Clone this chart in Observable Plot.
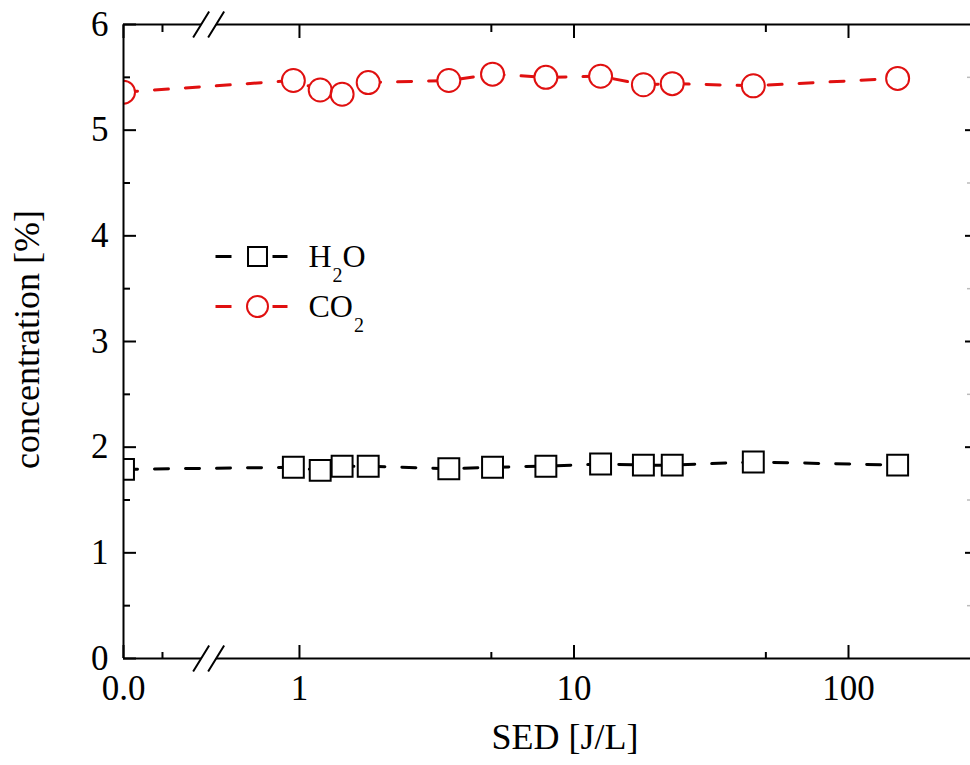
<!DOCTYPE html>
<html><head><meta charset="utf-8">
<script src="https://cdn.jsdelivr.net/npm/d3@7"></script>
<script src="https://cdn.jsdelivr.net/npm/@observablehq/plot@0.6"></script>
<style>
body{margin:0;background:#fff;}
#chart{position:relative;width:970px;height:765px;overflow:hidden;background:#fff}
</style></head><body><div id="chart"></div>
<script>
// ---- data ----
const sed = [0, 0.95, 1.19, 1.43, 1.78, 3.5, 5.05, 7.9, 12.5, 17.9, 22.8, 45, 151];
const h2o = [1.79, 1.81, 1.78, 1.82, 1.82, 1.795, 1.81, 1.82, 1.84, 1.83, 1.83, 1.86, 1.83];
const co2 = [5.36, 5.47, 5.38, 5.34, 5.45, 5.47, 5.53, 5.50, 5.51, 5.43, 5.44, 5.42, 5.49];
const seriesNames = ["H2O", "CO2"];
const xMajorTicks = [0, 1, 10, 100];
const xMajorLabels = ["0.0", "1", "10", "100"];
const xMinorTicks = [0.05, 5, 50];
const yMajorTicks = [0, 1, 2, 3, 4, 5, 6];
const yMinorTicks = [0.5, 1.5, 2.5, 3.5, 4.5, 5.5];
const xTitle = "SED [J/L]";
const yTitle = "concentration [%]";

// ---- broken x axis: linear segment [0, 0.1] then log10 segment ----
const linMax = 0.1, pZero = -0.641, pLinEnd = -0.357;
const pos = v => v <= linMax ? pZero + (v / linMax) * (pLinEnd - pZero) : Math.log10(v);
const pBreak = (pLinEnd + Math.log10(0.5)) / 2;
const labelOf = new Map(xMajorTicks.map((t, i) => [pos(t), xMajorLabels[i]]));

const rows = sed.map((s, i) => ({sed: s, h2o: h2o[i], co2: co2[i]}));
const RED = "#e01010";
const FONT = "'Liberation Serif', 'Times New Roman', serif";

const symLegendLine = {draw(ctx) { ctx.moveTo(-42, 0); ctx.lineTo(-26, 0); ctx.moveTo(15, 0); ctx.lineTo(30, 0); }};
const symBreakSlashes = {draw(ctx) { ctx.moveTo(-16, 13); ctx.lineTo(0, -13); ctx.moveTo(-1, 13); ctx.lineTo(15, -13); }};
const symBreakGap = {draw(ctx) { ctx.moveTo(-10, 4); ctx.lineTo(-5, -4); ctx.lineTo(9, -4); ctx.lineTo(4, 4); ctx.closePath(); }};

const X = d => pos(d.sed);
const lineOpts = {strokeWidth: 3, strokeDasharray: "14,17", strokeLinecap: "round", clip: true};
const legendTextOpts = {frameAnchor: "top-left", dx: 185, text: d => d, textAnchor: "start", lineAnchor: "middle", fontSize: 32};

const plot = Plot.plot({
  width: 970, height: 765,
  marginLeft: 123, marginRight: 0, marginTop: 24, marginBottom: 107,
  style: {fontFamily: FONT, background: "white", color: "black", overflow: "visible"},
  x: {type: "linear", domain: [pZero, 2.4517], range: [123, 972]},
  y: {domain: [0, 6]},
  axis: null,
  marks: [
    // series lines
    Plot.line(rows, {x: X, y: "h2o", stroke: "black", ...lineOpts}),
    Plot.line(rows, {x: X, y: "co2", stroke: RED, ...lineOpts}),
    // masks so the lines stop at the markers
    Plot.dot(rows, {x: X, y: "h2o", symbol: "square", r: 11.5, fill: "white", clip: true}),
    Plot.dot(rows, {x: X, y: "co2", symbol: "circle", r: 11.5, fill: "white", clip: true}),
    // markers
    Plot.dot(rows, {x: X, y: "h2o", symbol: "square", r: 11.8, fill: "none", stroke: "black", strokeWidth: 2, clip: true}),
    Plot.dot(rows, {x: X, y: "co2", symbol: "circle", r: 11.5, fill: "none", stroke: RED, strokeWidth: 2, clip: true}),
    // frame
    Plot.ruleY([0, 6], {stroke: "black", strokeWidth: 2}),
    Plot.ruleX([pZero], {stroke: "black", strokeWidth: 2}),
    // y axis ticks (inward), left & right
    Plot.axisY(yMajorTicks, {anchor: "left", tickSize: 13, dx: 13, fill: "none", strokeWidth: 2, label: null}),
    Plot.axisY(yMinorTicks, {anchor: "left", tickSize: 7, dx: 7, fill: "none", strokeWidth: 2, label: null}),
    Plot.axisY(yMajorTicks.slice(1, -1), {anchor: "right", tickSize: 6, dx: -6, fill: "none", strokeWidth: 2, label: null}),
    Plot.axisY(yMinorTicks, {anchor: "right", tickSize: 4, dx: -4, fill: "none", stroke: "#bbb", strokeWidth: 1.5, label: null}),
    Plot.axisY(yMajorTicks, {anchor: "left", tickSize: 0, tickPadding: 15, stroke: "none", fontSize: 35, label: null,
      tickFormat: d => String(d)}),
    // x axis ticks (inward), bottom & top
    Plot.axisX(xMajorTicks.map(pos), {anchor: "bottom", tickSize: 13, dy: -13, fill: "none", strokeWidth: 2, label: null}),
    Plot.axisX(xMinorTicks.map(pos), {anchor: "bottom", tickSize: 6, dy: -6, fill: "none", strokeWidth: 2, label: null}),
    Plot.axisX(xMajorTicks.map(pos), {anchor: "top", tickSize: 13, dy: 13, fill: "none", strokeWidth: 2, label: null}),
    Plot.axisX(xMinorTicks.map(pos), {anchor: "top", tickSize: 7, dy: 7, fill: "none", strokeWidth: 2, label: null}),
    Plot.axisX(xMajorTicks.map(pos), {anchor: "bottom", tickSize: 0, tickPadding: 17, stroke: "none", fontSize: 35, label: null,
      tickFormat: p => labelOf.get(p)}),
    // axis break marks
    Plot.dot([0, 6], {x: () => pBreak, y: d => d, symbol: symBreakGap, fill: "white", r: 5}),
    Plot.dot([0, 6], {x: () => pBreak, y: d => d, symbol: symBreakSlashes, fill: "none", stroke: "black", strokeWidth: 2, r: 5}),
    // axis titles
    Plot.text([xTitle], {frameAnchor: "bottom", dx: 18, dy: 90, text: d => d, fontSize: 36, textAnchor: "middle"}),
    Plot.text([yTitle], {frameAnchor: "left", dx: -96, dy: -2, rotate: -90, text: d => d, fontSize: 36, textAnchor: "middle"}),
    // legend
    Plot.dot([seriesNames[0]], {frameAnchor: "top-left", dx: 134, dy: 232, symbol: symLegendLine, stroke: "black", strokeWidth: 3, fill: "none"}),
    Plot.dot([seriesNames[0]], {frameAnchor: "top-left", dx: 134, dy: 232, symbol: "square", r: 10.7, stroke: "black", strokeWidth: 2, fill: "none"}),
    Plot.dot([seriesNames[1]], {frameAnchor: "top-left", dx: 134, dy: 282, symbol: symLegendLine, stroke: RED, strokeWidth: 3, fill: "none"}),
    Plot.dot([seriesNames[1]], {frameAnchor: "top-left", dx: 134, dy: 282, symbol: "circle", r: 10.5, stroke: RED, strokeWidth: 2, fill: "none"}),
    Plot.text([seriesNames[0]], {...legendTextOpts, dy: 232}),
    Plot.text([seriesNames[1]], {...legendTextOpts, dy: 282})
  ]
});
document.getElementById("chart").appendChild(plot);

// subscripts in legend labels (H2O -> H₂O, CO2 -> CO₂)
const ns = "http://www.w3.org/2000/svg";
plot.querySelectorAll("text").forEach(t => {
  const s = t.textContent;
  if (!seriesNames.includes(s)) return;
  t.textContent = "";
  let shifted = false;
  for (const part of s.match(/\d+|\D+/g)) {
    const sp = document.createElementNS(ns, "tspan");
    sp.textContent = part;
    if (/\d/.test(part)) { sp.setAttribute("font-size", "20"); sp.setAttribute("dy", "15"); sp.setAttribute("dx", "1"); shifted = true; }
    else if (shifted) { sp.setAttribute("dy", "-15"); shifted = false; }
    t.appendChild(sp);
  }
});
</script></body></html>
